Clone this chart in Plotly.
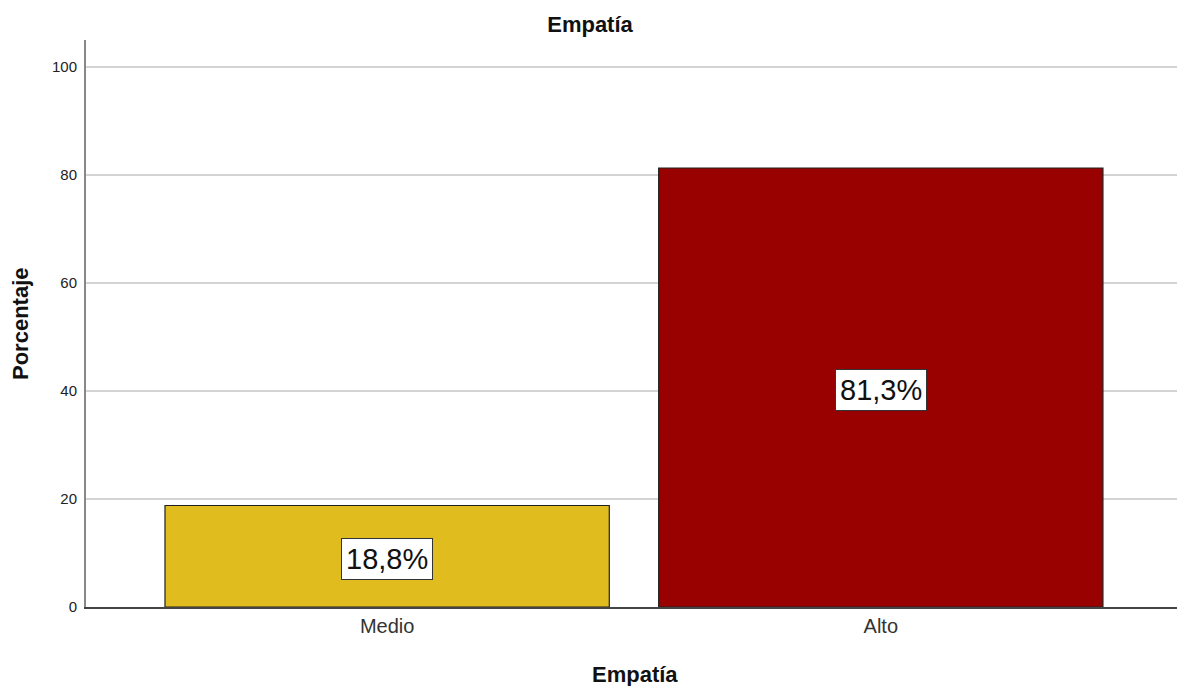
import plotly.graph_objects as go

# Empatía level distribution (percentage)
categories = ["Medio", "Alto"]
percentages = [18.8, 81.3]
bar_colors = ["#E1BC1E", "#990000"]
y_ticks = [0, 20, 40, 60, 80, 100]

FONT = "Liberation Sans, Arial, sans-serif"

fig = go.Figure()
fig.add_trace(go.Bar(
    x=categories,
    y=percentages,
    width=0.9,
    marker=dict(color=bar_colors, line=dict(color="#222222", width=1.2)),
    hoverinfo="skip",
))

# Value labels in white boxes at the middle of each bar
for cat, val in zip(categories, percentages):
    fig.add_annotation(
        x=cat, y=val / 2, xref="x", yref="y", yshift=-3,
        text=f"{val:.1f}%".replace(".", ","),
        showarrow=False,
        font=dict(family=FONT, size=29, color="#111111"),
        bgcolor="white", bordercolor="#333333", borderwidth=1, borderpad=4,
    )

# Axis titles
fig.add_annotation(
    text="<b>Empatía</b>", xref="paper", yref="paper",
    x=(634.5 - 86) / 1091, y=-(674 - 607) / 567, showarrow=False,
    xanchor="center", yanchor="middle",
    font=dict(family=FONT, size=22, color="#111111"),
)
fig.add_annotation(
    text="<b>Porcentaje</b>", xref="paper", yref="paper",
    x=-(86 - 20) / 1091, y=(607 - 324) / 567, showarrow=False,
    xanchor="center", yanchor="middle", textangle=-90,
    font=dict(family=FONT, size=22, color="#111111"),
)

fig.update_layout(
    width=1177, height=686,
    margin=dict(l=86, r=0, t=40, b=79),
    paper_bgcolor="white", plot_bgcolor="white",
    showlegend=False,
    title=dict(
        text="<b>Empatía</b>", x=590 / 1177, xanchor="center",
        y=1 - 24 / 686, yanchor="middle", yref="container",
        font=dict(family=FONT, size=22, color="#111111"),
    ),
    xaxis=dict(
        type="category", range=[-0.61, 1.6],
        showline=True, linecolor="#444444", linewidth=2,
        showgrid=False, ticks="", ticklen=0,
        tickfont=dict(family=FONT, size=20, color="#333333"),
    ),
    yaxis=dict(
        range=[0, 105], tickvals=y_ticks,
        showline=True, linecolor="#888888", linewidth=2,
        showgrid=True, gridcolor="#D4D4D4", gridwidth=2,
        zeroline=False, ticks="", ticklen=0, ticklabelstandoff=4,
        tickfont=dict(family=FONT, size=15, color="#222222"),
    ),
)

fig.write_html("out.html")
